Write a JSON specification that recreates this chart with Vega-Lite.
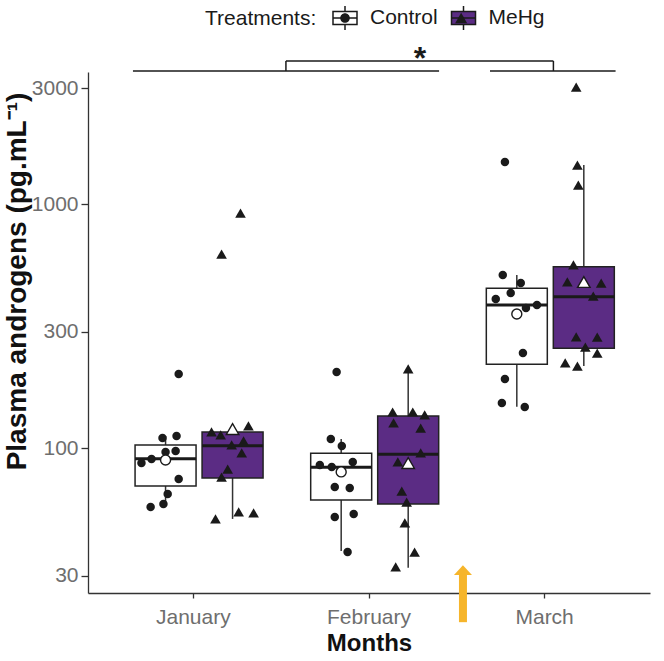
{
  "$schema": "https://vega.github.io/schema/vega-lite/v6.json",
  "width": 562,
  "height": 521,
  "autosize": {"type": "none"},
  "padding": {"left": 88, "top": 72, "right": 14, "bottom": 68},
  "background": "white",
  "config": {
    "font": "Liberation Sans",
    "view": {"stroke": null},
    "axis": {
      "grid": false,
      "domainColor": "#333333",
      "domainWidth": 1.3,
      "tickColor": "#333333",
      "tickWidth": 1.3,
      "labelColor": "#6e6e6e",
      "labelFontSize": 21,
      "labelFont": "Liberation Sans",
      "titleFont": "Liberation Sans",
      "titleFontSize": 24,
      "titleFontWeight": "bold",
      "titleColor": "#111111"
    },
    "axisX": {"tickSize": 5, "labelPadding": 8, "labelAngle": 0, "titlePadding": 4},
    "axisY": {"tickSize": 7, "labelPadding": 3, "titleFontSize": 28, "titleX": -57, "titleY": 209}
  },
  "datasets": {
    "boxes": [
      {"month": "January", "treatment": "Control", "lo": 59.2, "q1": 70.2, "median": 90.7, "q3": 103.3, "hi": 112.4, "mean": 89.6},
      {"month": "January", "treatment": "MeHg", "lo": 51.4, "q1": 75.6, "median": 102.6, "q3": 116.8, "hi": 123.6, "mean": 120.1},
      {"month": "February", "treatment": "Control", "lo": 38.0, "q1": 61.5, "median": 83.7, "q3": 95.5, "hi": 109.3, "mean": 80.1},
      {"month": "February", "treatment": "MeHg", "lo": 32.4, "q1": 59.2, "median": 94.6, "q3": 135.8, "hi": 211.6, "mean": 87.1},
      {"month": "March", "treatment": "Control", "lo": 148.3, "q1": 221.1, "median": 387.0, "q3": 453.2, "hi": 513.5, "mean": 355.5},
      {"month": "March", "treatment": "MeHg", "lo": 217.6, "q1": 257.2, "median": 418.5, "q3": 555.6, "hi": 1450, "mean": 481}
    ],
    "points": [
      {"month": "January", "treatment": "Control", "value": 201.8, "jitter": 0.43},
      {"month": "January", "treatment": "Control", "value": 110.3, "jitter": -0.10},
      {"month": "January", "treatment": "Control", "value": 112.4, "jitter": 0.36},
      {"month": "January", "treatment": "Control", "value": 96.7, "jitter": 0.0},
      {"month": "January", "treatment": "Control", "value": 97.6, "jitter": 0.33},
      {"month": "January", "treatment": "Control", "value": 87.1, "jitter": -0.79},
      {"month": "January", "treatment": "Control", "value": 90.5, "jitter": -0.46},
      {"month": "January", "treatment": "Control", "value": 74.9, "jitter": 0.43},
      {"month": "January", "treatment": "Control", "value": 65.1, "jitter": 0.07},
      {"month": "January", "treatment": "Control", "value": 59.2, "jitter": -0.07},
      {"month": "January", "treatment": "Control", "value": 57.5, "jitter": -0.49},
      {"month": "January", "treatment": "MeHg", "value": 116.8, "jitter": -0.69},
      {"month": "January", "treatment": "MeHg", "value": 113.5, "jitter": -0.39},
      {"month": "January", "treatment": "MeHg", "value": 123.6, "jitter": 0.52},
      {"month": "January", "treatment": "MeHg", "value": 103.3, "jitter": -0.03},
      {"month": "January", "treatment": "MeHg", "value": 107.3, "jitter": 0.36},
      {"month": "January", "treatment": "MeHg", "value": 95.8, "jitter": 0.30},
      {"month": "January", "treatment": "MeHg", "value": 82.3, "jitter": -0.16},
      {"month": "January", "treatment": "MeHg", "value": 76.3, "jitter": -0.36},
      {"month": "January", "treatment": "MeHg", "value": 54.9, "jitter": 0.20},
      {"month": "January", "treatment": "MeHg", "value": 54.4, "jitter": 0.69},
      {"month": "January", "treatment": "MeHg", "value": 51.4, "jitter": -0.56},
      {"month": "January", "treatment": "MeHg", "value": 922, "jitter": 0.26},
      {"month": "January", "treatment": "MeHg", "value": 626, "jitter": -0.36},
      {"month": "February", "treatment": "Control", "value": 205.7, "jitter": -0.15},
      {"month": "February", "treatment": "Control", "value": 109.3, "jitter": -0.34},
      {"month": "February", "treatment": "Control", "value": 102.3, "jitter": 0.02},
      {"month": "February", "treatment": "Control", "value": 85.5, "jitter": -0.70},
      {"month": "February", "treatment": "Control", "value": 83.9, "jitter": -0.31},
      {"month": "February", "treatment": "Control", "value": 88.0, "jitter": 0.38},
      {"month": "February", "treatment": "Control", "value": 69.5, "jitter": -0.21},
      {"month": "February", "treatment": "Control", "value": 68.8, "jitter": 0.28},
      {"month": "February", "treatment": "Control", "value": 52.4, "jitter": -0.21},
      {"month": "February", "treatment": "Control", "value": 53.9, "jitter": 0.41},
      {"month": "February", "treatment": "Control", "value": 37.6, "jitter": 0.21},
      {"month": "February", "treatment": "MeHg", "value": 211.6, "jitter": 0.0},
      {"month": "February", "treatment": "MeHg", "value": 141.0, "jitter": -0.51},
      {"month": "February", "treatment": "MeHg", "value": 141.0, "jitter": 0.15},
      {"month": "February", "treatment": "MeHg", "value": 137.1, "jitter": 0.54},
      {"month": "February", "treatment": "MeHg", "value": 127.1, "jitter": -0.48},
      {"month": "February", "treatment": "MeHg", "value": 121.2, "jitter": 0.41},
      {"month": "February", "treatment": "MeHg", "value": 95.8, "jitter": 0.41},
      {"month": "February", "treatment": "MeHg", "value": 88.0, "jitter": -0.34},
      {"month": "February", "treatment": "MeHg", "value": 66.9, "jitter": -0.21},
      {"month": "February", "treatment": "MeHg", "value": 60.3, "jitter": -0.05},
      {"month": "February", "treatment": "MeHg", "value": 49.5, "jitter": -0.11},
      {"month": "February", "treatment": "MeHg", "value": 37.6, "jitter": 0.21},
      {"month": "February", "treatment": "MeHg", "value": 32.7, "jitter": -0.41},
      {"month": "March", "treatment": "Control", "value": 1492, "jitter": -0.39},
      {"month": "March", "treatment": "Control", "value": 513.5, "jitter": -0.46},
      {"month": "March", "treatment": "Control", "value": 476.3, "jitter": 0.13},
      {"month": "March", "treatment": "Control", "value": 433.4, "jitter": -0.20},
      {"month": "March", "treatment": "Control", "value": 409.6, "jitter": -0.69},
      {"month": "March", "treatment": "Control", "value": 376.3, "jitter": 0.30},
      {"month": "March", "treatment": "Control", "value": 387.0, "jitter": 0.66},
      {"month": "March", "treatment": "Control", "value": 246.0, "jitter": 0.20},
      {"month": "March", "treatment": "Control", "value": 192.5, "jitter": -0.39},
      {"month": "March", "treatment": "Control", "value": 153.5, "jitter": -0.49},
      {"month": "March", "treatment": "Control", "value": 147.8, "jitter": 0.26},
      {"month": "March", "treatment": "MeHg", "value": 3028, "jitter": -0.25},
      {"month": "March", "treatment": "MeHg", "value": 1450, "jitter": -0.21},
      {"month": "March", "treatment": "MeHg", "value": 1201, "jitter": -0.18},
      {"month": "March", "treatment": "MeHg", "value": 564.6, "jitter": -0.34},
      {"month": "March", "treatment": "MeHg", "value": 481, "jitter": -0.54},
      {"month": "March", "treatment": "MeHg", "value": 476, "jitter": 0.57},
      {"month": "March", "treatment": "MeHg", "value": 421.2, "jitter": 0.31},
      {"month": "March", "treatment": "MeHg", "value": 286.2, "jitter": -0.25},
      {"month": "March", "treatment": "MeHg", "value": 286, "jitter": 0.44},
      {"month": "March", "treatment": "MeHg", "value": 260.3, "jitter": 0.05},
      {"month": "March", "treatment": "MeHg", "value": 246, "jitter": 0.44},
      {"month": "March", "treatment": "MeHg", "value": 223.9, "jitter": -0.61},
      {"month": "March", "treatment": "MeHg", "value": 217.6, "jitter": -0.21}
    ],
    "bracket": [
      {"x": 0.656, "x2": 2.399, "y": 3523, "y2": 3523},
      {"x": 2.689, "x2": 3.404, "y": 3523, "y2": 3523},
      {"x": 1.527, "x2": 3.05, "y": 3870, "y2": 3870},
      {"x": 1.527, "x2": 1.527, "y": 3523, "y2": 3870},
      {"x": 3.05, "x2": 3.05, "y": 3523, "y2": 3870}
    ],
    "star": [{"x": 2.29, "y": 3590, "label": "*"}],
    "arrow": [{"x": 2.535, "y": 19.4, "y2": 30.3, "head": 31.7}]
  },
  "layer": [
    {
      "encoding": {
        "x": {"field": "month", "type": "nominal", "sort": ["January", "February", "March"], "title": "Months", "scale": {"paddingInner": 0, "paddingOuter": 0.1}}
      },
      "layer": [
        {
          "data": {"name": "boxes"},
          "mark": {"type": "rule", "color": "#333333", "strokeWidth": 1.5},
          "encoding": {
            "xOffset": {"field": "treatment", "type": "nominal", "scale": {"type": "band", "range": [29.5, 157.5], "paddingInner": 0.0896, "paddingOuter": 0}},
            "y": {"field": "lo", "type": "quantitative", "title": "Plasma androgens (pg.mL⁻¹)", "scale": {"type": "log", "domain": [25.55, 3489], "nice": false}, "axis": {"values": [30, 100, 300, 1000, 3000], "format": "d"}},
            "y2": {"field": "hi"}
          }
        },
        {
          "data": {"name": "boxes"},
          "mark": {"type": "bar", "stroke": "#222222", "strokeWidth": 1.5},
          "encoding": {
            "xOffset": {"field": "treatment", "type": "nominal", "scale": {"type": "band", "range": [29.5, 157.5], "paddingInner": 0.0896, "paddingOuter": 0}},
            "y": {"field": "q1", "type": "quantitative", "title": "Plasma androgens (pg.mL⁻¹)", "scale": {"type": "log", "domain": [25.55, 3489], "nice": false}, "axis": {"values": [30, 100, 300, 1000, 3000], "format": "d"}},
            "y2": {"field": "q3"},
            "fill": {
              "field": "treatment", "type": "nominal",
              "scale": {"range": ["#ffffff", "#5B2C84"]},
              "legend": {
                "orient": "none", "legendX": 117, "legendY": -67, "direction": "horizontal",
                "title": "Treatments:", "titleOrient": "left", "titleFontSize": 21, "titleFontWeight": "normal",
                "titleColor": "#1a1a1a", "titlePadding": 15, "labelFontSize": 21, "labelColor": "#1a1a1a",
                "labelOffset": 12, "columnPadding": 10.5, "symbolSize": 576,
                "symbolType": "M-1,-0.55H1V0.55H-1Z M0,-1V-0.55 M0,0.55V1 M-1,0H1",
                "symbolStrokeColor": "#1a1a1a", "symbolStrokeWidth": 1.5, "zindex": 1
              }
            }
          }
        },
        {
          "data": {"name": "boxes"},
          "mark": {"type": "tick", "orient": "horizontal", "thickness": 3, "size": 61, "color": "#1a1a1a", "opacity": 1},
          "encoding": {
            "xOffset": {"field": "treatment", "type": "nominal", "scale": {"type": "band", "range": [29.5, 157.5], "paddingInner": 0.0896, "paddingOuter": 0}},
            "y": {"field": "median", "type": "quantitative", "title": "Plasma androgens (pg.mL⁻¹)", "scale": {"type": "log", "domain": [25.55, 3489], "nice": false}, "axis": {"values": [30, 100, 300, 1000, 3000], "format": "d"}}
          }
        },
        {
          "data": {"name": "points"},
          "transform": [{"filter": "datum.treatment === 'Control'"}],
          "mark": {"type": "point", "filled": true, "color": "#1a1a1a", "size": 452, "opacity": 1},
          "encoding": {
            "xOffset": {"field": "jitter", "type": "quantitative", "scale": {"domain": [-1, 1], "range": [29.5, 90.5]}},
            "y": {"field": "value", "type": "quantitative", "title": "Plasma androgens (pg.mL⁻¹)", "scale": {"type": "log", "domain": [25.55, 3489], "nice": false}, "axis": {"values": [30, 100, 300, 1000, 3000], "format": "d"}},
            "shape": {
              "field": "treatment", "type": "nominal",
              "scale": {"domain": ["Control", "MeHg"], "range": ["M-0.4,0A0.4,0.4 0 1,0 0.4,0A0.4,0.4 0 1,0 -0.4,0Z", "M0,-0.435L0.5,0.435L-0.5,0.435Z"]},
              "legend": {
                "orient": "none", "legendX": 244.0, "legendY": -67, "direction": "horizontal",
                "title": null, "labelExpr": "''", "labelOffset": 0, "labelFontSize": 21,
                "columnPadding": 90.18, "symbolSize": 576,
                "symbolFillColor": "#1a1a1a", "symbolStrokeColor": "transparent", "symbolStrokeWidth": 1.5, "zindex": 2
              }
            }
          }
        },
        {
          "data": {"name": "points"},
          "transform": [{"filter": "datum.treatment === 'MeHg'"}],
          "mark": {"type": "point", "filled": true, "color": "#1a1a1a", "size": 452, "opacity": 1},
          "encoding": {
            "xOffset": {"field": "jitter", "type": "quantitative", "scale": {"domain": [-1, 1], "range": [96.5, 157.5]}},
            "y": {"field": "value", "type": "quantitative", "title": "Plasma androgens (pg.mL⁻¹)", "scale": {"type": "log", "domain": [25.55, 3489], "nice": false}, "axis": {"values": [30, 100, 300, 1000, 3000], "format": "d"}},
            "shape": {
              "field": "treatment", "type": "nominal",
              "scale": {"domain": ["Control", "MeHg"], "range": ["M-0.4,0A0.4,0.4 0 1,0 0.4,0A0.4,0.4 0 1,0 -0.4,0Z", "M0,-0.435L0.5,0.435L-0.5,0.435Z"]},
              "legend": {
                "orient": "none", "legendX": 244.0, "legendY": -67, "direction": "horizontal",
                "title": null, "labelExpr": "''", "labelOffset": 0, "labelFontSize": 21,
                "columnPadding": 90.18, "symbolSize": 576,
                "symbolFillColor": "#1a1a1a", "symbolStrokeColor": "transparent", "symbolStrokeWidth": 1.5, "zindex": 2
              }
            }
          }
        },
        {
          "data": {"name": "boxes"},
          "mark": {"type": "point", "filled": true, "fill": "#ffffff", "stroke": "#1a1a1a", "strokeWidth": 1.4, "size": 625, "opacity": 1},
          "encoding": {
            "xOffset": {"field": "treatment", "type": "nominal", "scale": {"type": "band", "range": [29.5, 157.5], "paddingInner": 0.0896, "paddingOuter": 0}},
            "y": {"field": "mean", "type": "quantitative", "title": "Plasma androgens (pg.mL⁻¹)", "scale": {"type": "log", "domain": [25.55, 3489], "nice": false}, "axis": {"values": [30, 100, 300, 1000, 3000], "format": "d"}},
            "shape": {
              "field": "treatment", "type": "nominal",
              "scale": {"domain": ["Control", "MeHg"], "range": ["M-0.4,0A0.4,0.4 0 1,0 0.4,0A0.4,0.4 0 1,0 -0.4,0Z", "M0,-0.435L0.5,0.435L-0.5,0.435Z"]},
              "legend": null
            }
          }
        }
      ],
      "resolve": {"scale": {"xOffset": "independent"}}
    },
    {
      "layer": [
        {
          "data": {"name": "bracket"},
          "mark": {"type": "rule", "color": "#1a1a1a", "strokeWidth": 1.5},
          "encoding": {
            "x": {"field": "x", "type": "quantitative", "scale": {"domain": [0.4, 3.6], "nice": false, "zero": false}, "axis": null},
            "x2": {"field": "x2"},
            "y": {"field": "y", "type": "quantitative", "title": "Plasma androgens (pg.mL⁻¹)", "scale": {"type": "log", "domain": [25.55, 3489], "nice": false}, "axis": {"values": [30, 100, 300, 1000, 3000], "format": "d"}},
            "y2": {"field": "y2"}
          }
        },
        {
          "data": {"name": "star"},
          "mark": {"type": "text", "fontSize": 32, "fontWeight": "bold", "color": "#1a1a1a", "baseline": "alphabetic", "align": "center"},
          "encoding": {
            "x": {"field": "x", "type": "quantitative", "scale": {"domain": [0.4, 3.6], "nice": false, "zero": false}, "axis": null},
            "y": {"field": "y", "type": "quantitative", "title": "Plasma androgens (pg.mL⁻¹)", "scale": {"type": "log", "domain": [25.55, 3489], "nice": false}, "axis": {"values": [30, 100, 300, 1000, 3000], "format": "d"}},
            "text": {"field": "label"}
          }
        },
        {
          "data": {"name": "arrow"},
          "mark": {"type": "rule", "color": "#F6B52B", "strokeWidth": 8},
          "encoding": {
            "x": {"field": "x", "type": "quantitative", "scale": {"domain": [0.4, 3.6], "nice": false, "zero": false}, "axis": null},
            "y": {"field": "y", "type": "quantitative", "title": "Plasma androgens (pg.mL⁻¹)", "scale": {"type": "log", "domain": [25.55, 3489], "nice": false}, "axis": {"values": [30, 100, 300, 1000, 3000], "format": "d"}},
            "y2": {"field": "y2"}
          }
        },
        {
          "data": {"name": "arrow"},
          "mark": {"type": "point", "filled": true, "color": "#F6B52B", "opacity": 1, "size": 324, "shape": "M0,-0.55L1,0.55L-1,0.55Z"},
          "encoding": {
            "x": {"field": "x", "type": "quantitative", "scale": {"domain": [0.4, 3.6], "nice": false, "zero": false}, "axis": null},
            "y": {"field": "head", "type": "quantitative", "title": "Plasma androgens (pg.mL⁻¹)", "scale": {"type": "log", "domain": [25.55, 3489], "nice": false}, "axis": {"values": [30, 100, 300, 1000, 3000], "format": "d"}}
          }
        }
      ]
    }
  ],
  "resolve": {"scale": {"x": "independent"}}
}
